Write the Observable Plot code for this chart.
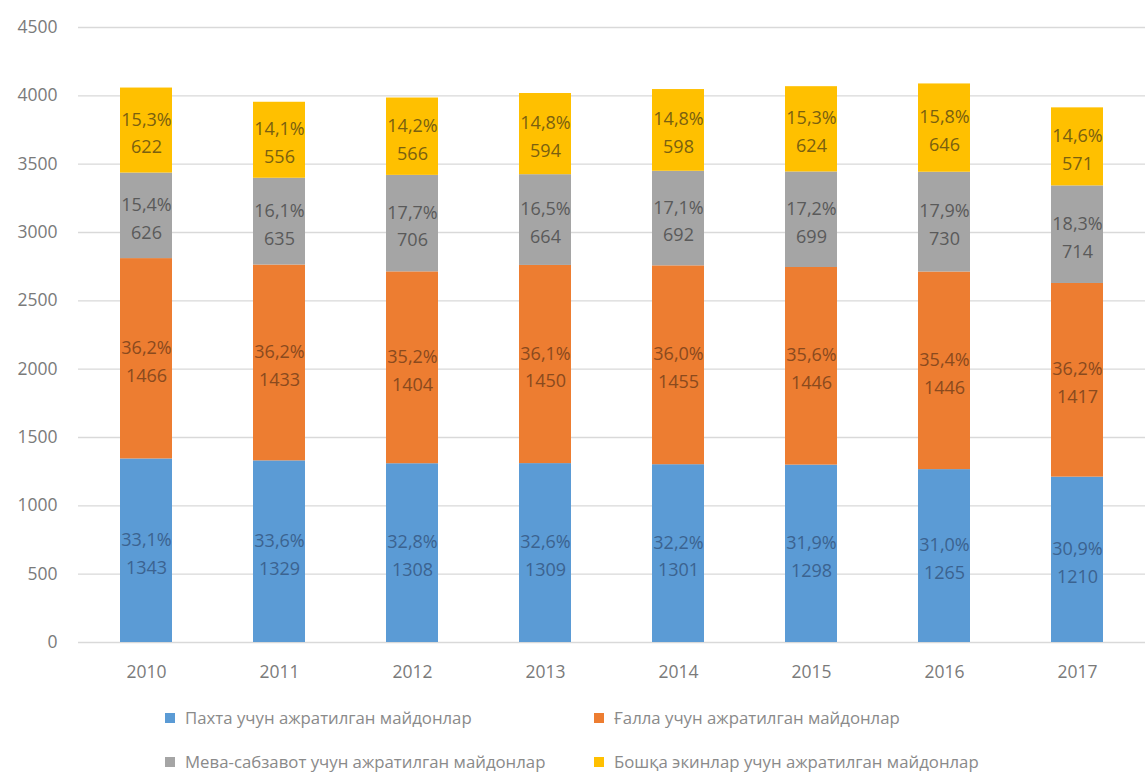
<!DOCTYPE html>
<html><head><meta charset="utf-8">
<script src="https://cdn.jsdelivr.net/npm/d3@7"></script>
<script src="https://cdn.jsdelivr.net/npm/@observablehq/plot@0.6"></script>
<style>
body{margin:0;background:#fff;font-family:"Open Sans",sans-serif;}
#legend{position:relative;height:85px;font-size:16.8px;color:#8a8a8a;}
.item{position:absolute;display:flex;align-items:center;white-space:nowrap;}
.sw{width:10px;height:10px;margin-right:10px;}
</style></head><body>
<div id="chart"></div>
<div id="legend"></div>
<script>
const years = ["2010","2011","2012","2013","2014","2015","2016","2017"];
const seriesNames = [
  "Пахта учун ажратилган майдонлар",
  "Ғалла учун ажратилган майдонлар",
  "Мева-сабзавот учун ажратилган майдонлар",
  "Бошқа экинлар учун ажратилган майдонлар"
];
const colors = ["#5b9bd5","#ed7d31","#a5a5a5","#ffc000"];
const labelColors = ["#3b6390","#8a4a1e","#5a5a5a","#7a6010"];
const cotton = [1343,1329,1308,1309,1301,1298,1265,1210];
const cottonPct = ["33,1%","33,6%","32,8%","32,6%","32,2%","31,9%","31,0%","30,9%"];
const grain = [1466,1433,1404,1450,1455,1446,1446,1417];
const grainPct = ["36,2%","36,2%","35,2%","36,1%","36,0%","35,6%","35,4%","36,2%"];
const fruit = [626,635,706,664,692,699,730,714];
const fruitPct = ["15,4%","16,1%","17,7%","16,5%","17,1%","17,2%","17,9%","18,3%"];
const other = [622,556,566,594,598,624,646,571];
const otherPct = ["15,3%","14,1%","14,2%","14,8%","14,8%","15,3%","15,8%","14,6%"];
const yTicks = [0,500,1000,1500,2000,2500,3000,3500,4000,4500];

const vals = [cotton, grain, fruit, other];
const pcts = [cottonPct, grainPct, fruitPct, otherPct];
const data = [];
vals.forEach((arr, s) => arr.forEach((v, i) => data.push({
  year: years[i], series: seriesNames[s], value: v, label: pcts[s][i] + "\n" + v, lc: labelColors[s]
})));

const chart = Plot.plot({
  width: 1145, height: 690,
  marginTop: 27, marginBottom: 48, marginLeft: 78, marginRight: 0,
  style: {fontFamily: "Open Sans, sans-serif", fontSize: "17.5px", color: "#7a7a7a"},
  x: {domain: years, paddingInner: 0.61, paddingOuter: 0.305, label: null, axis: null},
  y: {domain: [0, 4500], ticks: yTicks, label: null, tickSize: 0, tickPadding: 21, tickFormat: d => String(d)},
  color: {domain: seriesNames, range: colors},
  marks: [
    Plot.gridY(yTicks, {stroke: "#d9d9d9", strokeOpacity: 1, strokeWidth: 1.3}),
    Plot.barY(data, {x: "year", y: "value", fill: "series", order: seriesNames}),
    Plot.text(data, Plot.stackY({x: "year", y: "value", z: "series", order: seriesNames, text: "label",
      fill: "lc", fontSize: 18, lineHeight: 1.55})),
    Plot.axisX({tickSize: 0, tickPadding: 23, fontSize: 17.5, fill: "#7a7a7a", label: null})
  ]
});
document.getElementById("chart").appendChild(chart);

const legend = document.getElementById("legend");
const pos = [[165,28],[594,28],[165,72],[594,72]];
seriesNames.forEach((n, i) => {
  const d = document.createElement("div");
  d.className = "item";
  d.style.left = pos[i][0] + "px";
  d.style.top = (pos[i][1] - 12) + "px";
  d.innerHTML = `<span class="sw" style="background:${colors[i]}"></span><span>${n}</span>`;
  legend.appendChild(d);
});
</script></body></html>
